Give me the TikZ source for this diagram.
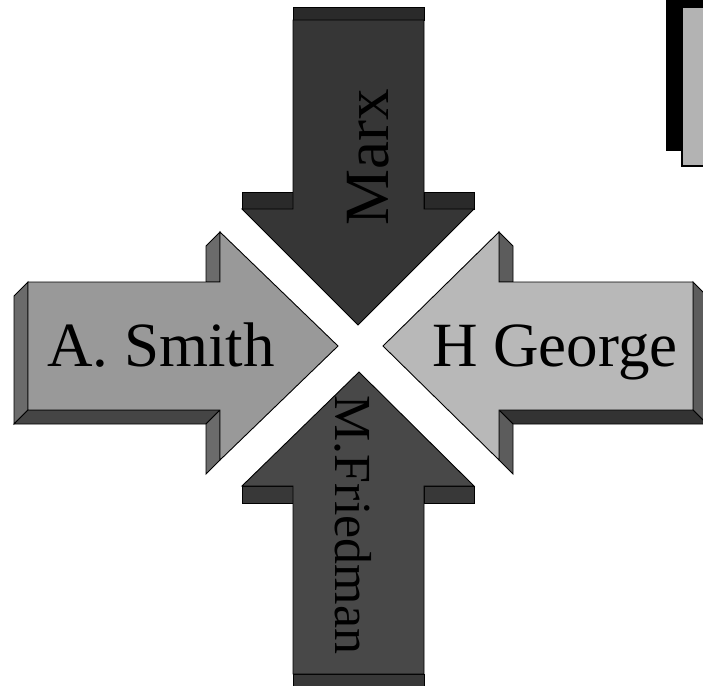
\documentclass[tikz,border=0pt]{standalone}
\usepackage{fontspec}
\setmainfont{Liberation Serif}
\usepackage{xcolor}
\definecolor{marxfront}{HTML}{363636}
\definecolor{marxside}{HTML}{2A2A2A}
\definecolor{friedfront}{HTML}{484848}
\definecolor{friedside}{HTML}{383838}
\definecolor{smithfront}{HTML}{999999}
\definecolor{smithside}{HTML}{6B6B6B}
\definecolor{smithbase}{HTML}{454545}
\definecolor{georgefront}{HTML}{B8B8B8}
\definecolor{georgeside}{HTML}{5C5C5C}
\definecolor{georgebase}{HTML}{333333}
\definecolor{tabgrey}{HTML}{B3B3B3}

\begin{document}
\begin{tikzpicture}[
  x=1pt, y=-1pt,
  face/.style={draw=black, line width=0.9pt, line join=miter, fill=#1},
  lbl/.style={font=\fontsize{63}{70}\selectfont, anchor=base, inner sep=0pt}
]
\useasboundingbox (0,0) rectangle (703,685);
\clip (0,0) rectangle (703,685);

% tab in the top right corner
\fill[black] (666,0) rectangle (710,151);
\draw[face=tabgrey, line width=1.6pt] (682,7) rectangle (712,166);

% Marx, pointing down
\draw[face=marxside] (293,7) rectangle (424,20);
\draw[face=marxside] (242,192) rectangle (293,209);
\draw[face=marxside] (424,192) rectangle (474,209);
\draw[face=marxfront] (293,20) -- (424,20) -- (424,209) -- (474,209)
  -- (358,325) -- (242,209) -- (293,209) -- cycle;

% M.Friedman, pointing up
\draw[face=friedside] (242,486) rectangle (293,503);
\draw[face=friedside] (424,486) rectangle (474,503);
\draw[face=friedside] (293,674) rectangle (424,692);
\draw[face=friedfront] (359,372) -- (474,486) -- (424,486) -- (424,674)
  -- (293,674) -- (293,486) -- (242,486) -- cycle;

% A. Smith, pointing right
\draw[face=smithside] (14,296) -- (28,282) -- (28,410) -- (14,424) -- cycle;
\draw[face=smithbase] (14,424) -- (28,410) -- (220,410) -- (206,424) -- cycle;
\draw[face=smithside] (206,246) -- (220,232) -- (220,282) -- (206,282) -- cycle;
\draw[face=smithside] (206,424) -- (220,410) -- (220,460) -- (206,474) -- cycle;
\draw[face=smithfront] (28,282) -- (220,282) -- (220,232) -- (338,346)
  -- (220,460) -- (220,410) -- (28,410) -- cycle;

% H George, pointing left
\draw[face=georgeside] (693,282) -- (707,296) -- (707,424) -- (693,410) -- cycle;
\draw[face=georgebase] (499,410) -- (693,410) -- (707,424) -- (513,424) -- cycle;
\draw[face=georgeside] (499,232) -- (513,246) -- (513,282) -- (499,282) -- cycle;
\draw[face=georgeside] (499,410) -- (513,424) -- (513,474) -- (499,460) -- cycle;
\draw[face=georgefront] (693,282) -- (499,282) -- (499,232) -- (383,346)
  -- (499,460) -- (499,410) -- (693,410) -- cycle;

% labels
\node[lbl] (smith)  at (161,366) {A. Smith};
\node[lbl] (george) at (555,366) {H George};
\node[lbl, rotate=90] (marx) at (388,157) {Marx};
\node[lbl, rotate=-90, font=\fontsize{52}{60}\selectfont] (fried) at (335,525) {M.Friedman};
\end{tikzpicture}
\end{document}
